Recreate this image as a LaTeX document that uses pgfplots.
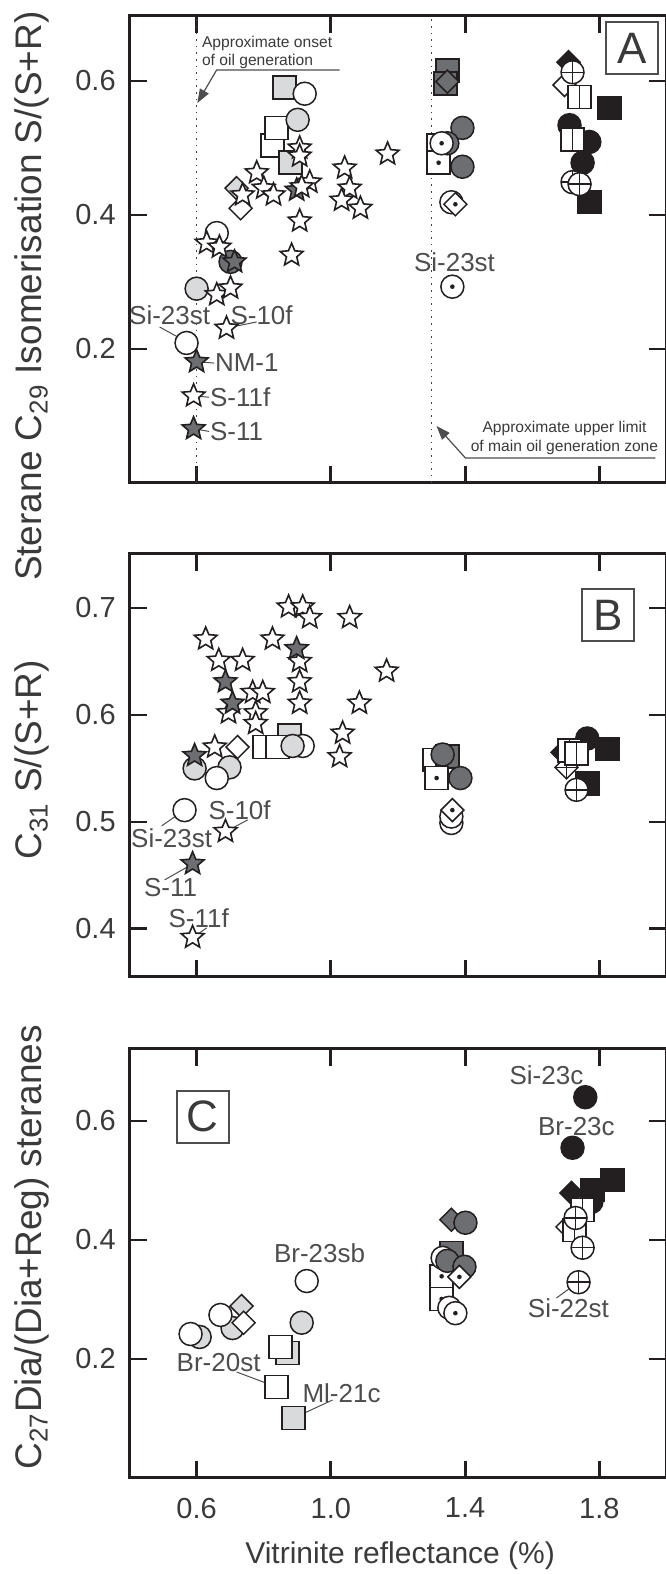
\documentclass[border=0pt]{standalone}
\usepackage{fontspec}
\setmainfont{Liberation Sans}
\usepackage{pgfplots}
\pgfplotsset{compat=1.18}
\usetikzlibrary{arrows.meta}

\definecolor{ink}{HTML}{231F20}
\definecolor{dkg}{HTML}{6D6E71}
\definecolor{ltg}{HTML}{D9DADB}
\definecolor{txt}{HTML}{3A3A3A}
\definecolor{lbl}{HTML}{4D4D4F}

% small centre dot used inside some symbols
\newcommand\markdot{\pgfscope\pgfsetfillcolor{ink}\pgfpathcircle{\pgfpointorigin}{0.2\pgfplotmarksize}\pgfusepathqfill\endpgfscope}

% five-pointed star
\pgfdeclareplotmark{fstar}{%
  \pgfpathmoveto{\pgfpointpolar{90}{\pgfplotmarksize}}%
  \pgfpathlineto{\pgfpointpolar{126}{0.45*\pgfplotmarksize}}%
  \pgfpathlineto{\pgfpointpolar{162}{\pgfplotmarksize}}%
  \pgfpathlineto{\pgfpointpolar{198}{0.45*\pgfplotmarksize}}%
  \pgfpathlineto{\pgfpointpolar{234}{\pgfplotmarksize}}%
  \pgfpathlineto{\pgfpointpolar{270}{0.45*\pgfplotmarksize}}%
  \pgfpathlineto{\pgfpointpolar{306}{\pgfplotmarksize}}%
  \pgfpathlineto{\pgfpointpolar{342}{0.45*\pgfplotmarksize}}%
  \pgfpathlineto{\pgfpointpolar{18}{\pgfplotmarksize}}%
  \pgfpathlineto{\pgfpointpolar{54}{0.45*\pgfplotmarksize}}%
  \pgfpathclose\pgfusepathqfillstroke}
% circles
\pgfdeclareplotmark{circ}{\pgfpathcircle{\pgfpointorigin}{\pgfplotmarksize}\pgfusepathqfillstroke}
\pgfdeclareplotmark{cdot}{\pgfpathcircle{\pgfpointorigin}{\pgfplotmarksize}\pgfusepathqfillstroke\markdot}
\pgfdeclareplotmark{ccross}{\pgfpathcircle{\pgfpointorigin}{\pgfplotmarksize}\pgfusepathqfillstroke
  \pgfpathmoveto{\pgfqpoint{-\pgfplotmarksize}{0pt}}\pgfpathlineto{\pgfqpoint{\pgfplotmarksize}{0pt}}%
  \pgfpathmoveto{\pgfqpoint{0pt}{-\pgfplotmarksize}}\pgfpathlineto{\pgfqpoint{0pt}{\pgfplotmarksize}}\pgfusepathqstroke}
% squares
\pgfdeclareplotmark{sqr}{\pgfpathrectangle{\pgfqpoint{-\pgfplotmarksize}{-\pgfplotmarksize}}{\pgfqpoint{2\pgfplotmarksize}{2\pgfplotmarksize}}\pgfusepathqfillstroke}
\pgfdeclareplotmark{sqdot}{\pgfpathrectangle{\pgfqpoint{-\pgfplotmarksize}{-\pgfplotmarksize}}{\pgfqpoint{2\pgfplotmarksize}{2\pgfplotmarksize}}\pgfusepathqfillstroke\markdot}
\pgfdeclareplotmark{sqsplit}{\pgfpathrectangle{\pgfqpoint{-\pgfplotmarksize}{-\pgfplotmarksize}}{\pgfqpoint{2\pgfplotmarksize}{2\pgfplotmarksize}}\pgfusepathqfillstroke
  \pgfpathmoveto{\pgfqpoint{0pt}{-\pgfplotmarksize}}\pgfpathlineto{\pgfqpoint{0pt}{\pgfplotmarksize}}\pgfusepathqstroke}
% diamonds
\newcommand\diapath{\pgfpathmoveto{\pgfqpoint{0pt}{\pgfplotmarksize}}\pgfpathlineto{\pgfqpoint{\pgfplotmarksize}{0pt}}%
  \pgfpathlineto{\pgfqpoint{0pt}{-\pgfplotmarksize}}\pgfpathlineto{\pgfqpoint{-\pgfplotmarksize}{0pt}}\pgfpathclose}
\pgfdeclareplotmark{dia}{\diapath\pgfusepathqfillstroke}
\pgfdeclareplotmark{diadot}{\diapath\pgfusepathqfillstroke\markdot}
\pgfdeclareplotmark{diacross}{\diapath\pgfusepathqfillstroke
  \pgfpathmoveto{\pgfqpoint{-\pgfplotmarksize}{0pt}}\pgfpathlineto{\pgfqpoint{\pgfplotmarksize}{0pt}}%
  \pgfpathmoveto{\pgfqpoint{0pt}{-\pgfplotmarksize}}\pgfpathlineto{\pgfqpoint{0pt}{\pgfplotmarksize}}\pgfusepathqstroke}

\pgfplotsset{
  mk/.style 2 args={only marks, mark=#1, mark size=5.75pt,
    mark options={solid, draw=ink, line width=0.75pt, fill=#2}},
  st/.style={only marks, mark=fstar, mark size=6pt,
    mark options={solid, draw=ink, line width=0.8pt, fill=#1}},
  panel/.style={
    scale only axis, width=268.5pt, xmin=0.4, xmax=2.0,
    anchor=south west, clip=false,
    axis line style={ink, line width=1.5pt},
    tick align=inside, major tick length=8.5pt,
    major tick style={ink, line width=1.4pt},
    xtick={0.6,1.0,1.4,1.8},
    tick label style={font=\fontsize{14.5}{14.5}\selectfont, text=txt},
    yticklabel style={xshift=-3.4pt},
    xticklabel style={yshift=-6.4pt},
    ylabel style={font=\fontsize{18.5}{18.5}\selectfont, text=txt, anchor=center},
  },
}
\tikzset{lead/.style={draw=lbl, line width=0.5pt}}
\newcommand\lab{\fontsize{13}{13}\selectfont}

\begin{document}
\begin{tikzpicture}
\useasboundingbox (0,0) rectangle (332.5pt,787pt);

%% ---------------- A: sterane C29 isomerisation ----------------
\begin{axis}[panel, at={(64.75pt,545.5pt)}, height=233.5pt,
  ymin=0, ymax=0.697, ytick={0.2,0.4,0.6}, yticklabels={0.2,0.4,0.6},
  xticklabels={},
  ylabel={Sterane C\textsubscript{29} Isomerisation S/(S+R)},
  ylabel style={at={(axis description cs:-0.1816,0.40)}}]
\draw[ink!85, line width=0.8pt, dash pattern=on 0.8pt off 2.5pt] (axis cs:0.6,0) -- (axis cs:0.6,0.697);
\draw[ink!85, line width=0.8pt, dash pattern=on 0.8pt off 2.5pt] (axis cs:1.3,0) -- (axis cs:1.3,0.697);
\node[anchor=west, align=left, inner sep=0pt, text=txt, font=\fontsize{7.8}{9.4}\selectfont]
  at (axis cs:0.615,0.6425) {Approximate onset\\of oil generation};
\draw[lbl, line width=0.6pt, -{Triangle[length=7pt,width=5pt]}]
  (axis cs:1.026,0.6164) -- (axis cs:0.6596,0.6164) -- (axis cs:0.602,0.567);
\node[align=center, inner sep=0pt, text=txt, font=\fontsize{7.8}{9.1}\selectfont]
  at (axis cs:1.696,0.0672) {Approximate upper limit\\of main oil generation zone};
\draw[lbl, line width=0.6pt, -{Triangle[length=7pt,width=5pt]}]
  (axis cs:1.967,0.0373) -- (axis cs:1.401,0.0373) -- (axis cs:1.3147,0.0851);
\node[draw=ink!80, line width=1pt, minimum size=26pt, inner sep=0pt, text=txt,
  font=\fontsize{22}{22}\selectfont] at (axis cs:1.898,0.6485) {A};

\addplot[mk={sqr}{white}] coordinates {(0.826,0.504) (0.838,0.530)};
\addplot[mk={sqr}{ltg}] coordinates {(0.862,0.590) (0.880,0.478)};
\addplot[mk={sqr}{dkg}] coordinates {(1.347,0.616) (1.342,0.596)};
\addplot[mk={sqdot}{white}] coordinates {(1.321,0.504) (1.321,0.478)};
\addplot[mk={sqr}{ink}] coordinates {(1.830,0.560) (1.770,0.419)};
\addplot[mk={dia}{ltg}] coordinates {(0.719,0.440)};
\addplot[mk={dia}{white}] coordinates {(0.731,0.410) (1.696,0.594)};
\addplot[mk={dia}{dkg}] coordinates {(1.347,0.599)};
\addplot[mk={dia}{ink}] coordinates {(1.708,0.628)};
\addplot[mk={circ}{white}] coordinates {(0.922,0.581) (0.660,0.373) (0.570,0.209) (1.359,0.419)};
\addplot[mk={circ}{ltg}] coordinates {(0.901,0.542) (0.600,0.290)};
\addplot[mk={circ}{dkg}] coordinates {(0.701,0.330) (1.392,0.530) (1.347,0.507) (1.392,0.472)};
\addplot[mk={circ}{ink}] coordinates {(1.711,0.534) (1.770,0.509) (1.750,0.478)};
\addplot[mk={cdot}{white}] coordinates {(1.330,0.507) (1.362,0.293)};
\addplot[mk={sqsplit}{white}] coordinates {(1.741,0.576) (1.720,0.513)};
\addplot[mk={ccross}{white}] coordinates {(1.720,0.613) (1.720,0.449) (1.741,0.446)};
\addplot[mk={diadot}{white}] coordinates {(1.371,0.416)};
\addplot[st=dkg] coordinates {(0.898,0.437) (0.713,0.330) (0.600,0.181) (0.591,0.081)};
\addplot[st=white] coordinates {
  (0.907,0.500) (0.907,0.488) (1.169,0.491) (1.041,0.470) (1.056,0.440)
  (1.032,0.422) (1.088,0.410) (0.937,0.449) (0.913,0.442) (0.907,0.391)
  (0.779,0.463) (0.800,0.440) (0.829,0.430) (0.737,0.430)
  (0.630,0.358) (0.668,0.352) (0.883,0.340) (0.660,0.281) (0.701,0.291)
  (0.689,0.231) (0.591,0.130)};

\draw[lead] (axis cs:0.4898,0.2328) -- (axis cs:0.565,0.212);
\node[text=lbl, font=\lab, inner sep=0pt] at (axis cs:0.5196,0.2507) {Si-23st};
\draw[lead] (axis cs:0.7787,0.2403) -- (axis cs:0.6893,0.2313);
\node[text=lbl, font=\lab, inner sep=0pt] at (axis cs:0.7936,0.2507) {S-10f};
\draw[lead] (axis cs:0.600,0.181) -- (axis cs:0.652,0.179);
\node[text=lbl, font=\lab, inner sep=0pt, anchor=west] at (axis cs:0.6536,0.1791) {NM-1};
\draw[lead] (axis cs:0.591,0.130) -- (axis cs:0.637,0.128);
\node[text=lbl, font=\lab, inner sep=0pt, anchor=west] at (axis cs:0.6387,0.1284) {S-11f};
\draw[lead] (axis cs:0.591,0.081) -- (axis cs:0.637,0.077);
\node[text=lbl, font=\lab, inner sep=0pt, anchor=west] at (axis cs:0.6387,0.0761) {S-11};
\node[text=lbl, font=\lab, inner sep=0pt] at (axis cs:1.3683,0.3299) {Si-23st};
\end{axis}

%% ---------------- B: C31 S/(S+R) ----------------
\begin{axis}[panel, at={(64.75pt,298.5pt)}, height=211.5pt,
  ymin=0.355, ymax=0.7505, ytick={0.4,0.5,0.6,0.7}, yticklabels={0.4,0.5,0.6,0.7},
  xticklabels={},
  ylabel={C\textsubscript{31} S/(S+R)},
  ylabel style={at={(axis description cs:-0.1816,0.513)}}]
\node[draw=ink!80, line width=1pt, minimum size=26pt, inner sep=0pt, text=txt,
  font=\fontsize{22}{22}\selectfont] at (axis cs:1.825,0.693) {B};

\addplot[mk={sqr}{ltg}] coordinates {(0.877,0.581)};
\addplot[mk={sqr}{white}] coordinates {(0.802,0.570) (0.841,0.570) (1.309,0.558)};
\addplot[mk={sqr}{dkg}] coordinates {(1.347,0.561)};
\addplot[mk={sqdot}{white}] coordinates {(1.315,0.541)};
\addplot[mk={sqr}{ink}] coordinates {(1.824,0.568) (1.764,0.536)};
\addplot[mk={dia}{ink}] coordinates {(1.690,0.565)};
\addplot[mk={diacross}{white}] coordinates {(1.702,0.551)};
\addplot[mk={dia}{white}] coordinates {(0.722,0.570)};
\addplot[mk={circ}{ltg}] coordinates {(0.594,0.550) (0.698,0.551)};
\addplot[mk={circ}{white}] coordinates {(0.660,0.541) (0.564,0.511) (0.916,0.571) (1.359,0.499) (1.359,0.505)};
\addplot[mk={circ}{ltg}] coordinates {(0.886,0.571)};
\addplot[mk={circ}{dkg}] coordinates {(1.333,0.563) (1.386,0.541)};
\addplot[mk={circ}{ink}] coordinates {(1.764,0.578)};
\addplot[mk={sqsplit}{white}] coordinates {(1.711,0.567) (1.732,0.564)};
\addplot[mk={diadot}{white}] coordinates {(1.362,0.511)};
\addplot[mk={ccross}{white}] coordinates {(1.732,0.530)};
\addplot[st=white] coordinates {
  (0.627,0.671) (0.666,0.651) (0.737,0.651) (0.767,0.621) (0.797,0.621)
  (0.695,0.602) (0.776,0.602) (0.776,0.592) (0.826,0.671) (0.874,0.701)
  (0.916,0.701) (0.937,0.691) (0.907,0.650) (0.907,0.631) (0.907,0.611)
  (1.056,0.691) (1.166,0.641) (1.085,0.611) (1.035,0.583) (1.026,0.561)
  (0.654,0.570) (0.686,0.491) (0.588,0.392)};
\addplot[st=dkg] coordinates {(0.686,0.631) (0.707,0.611) (0.898,0.662) (0.594,0.562) (0.588,0.461)};

\draw[lead] (axis cs:0.7519,0.5019) -- (axis cs:0.6864,0.4907);
\node[text=lbl, font=\lab, inner sep=0pt] at (axis cs:0.728,0.5112) {S-10f};
\draw[lead] (axis cs:0.4958,0.4963) -- (axis cs:0.5643,0.5112);
\node[text=lbl, font=\lab, inner sep=0pt] at (axis cs:0.5256,0.485) {Si-23st};
\draw[lead] (axis cs:0.5047,0.4458) -- (axis cs:0.5881,0.4607);
\node[text=lbl, font=\lab, inner sep=0pt] at (axis cs:0.5226,0.4383) {S-11};
\draw[lead] (axis cs:0.6298,0.4009) -- (axis cs:0.5881,0.3916);
\node[text=lbl, font=\lab, inner sep=0pt] at (axis cs:0.606,0.4103) {S-11f};
\end{axis}

%% ---------------- C: C27 diasteranes ----------------
\begin{axis}[panel, at={(64.75pt,48pt)}, height=214.5pt,
  ymin=0, ymax=0.721, ytick={0.2,0.4,0.6}, yticklabels={0.2,0.4,0.6},
  xticklabels={0.6,1.0,1.4,1.8},
  xlabel={Vitrinite reflectance (\%)},
  xlabel style={at={(axis description cs:0.504,0)}, anchor=center, yshift=-39pt,
    font=\fontsize{15}{15}\selectfont, text=txt},
  ylabel={C\textsubscript{27}Dia/(Dia+Reg) steranes},
  ylabel style={at={(axis description cs:-0.1816,0.538)}}]
\node[draw=ink!80, line width=1pt, minimum size=26pt, inner sep=0pt, text=txt,
  font=\fontsize{22}{22}\selectfont] at (axis cs:0.618,0.607) {C};

\addplot[mk={sqr}{ltg}] coordinates {(0.871,0.210) (0.889,0.101)};
\addplot[mk={sqr}{white}] coordinates {(0.850,0.220) (0.838,0.153)};
\addplot[mk={sqr}{dkg}] coordinates {(1.359,0.378)};
\addplot[mk={sqdot}{white}] coordinates {(1.330,0.339) (1.330,0.301)};
\addplot[mk={sqr}{ink}] coordinates {(1.839,0.501) (1.779,0.484)};
\addplot[mk={circ}{ltg}] coordinates {(0.609,0.237) (0.707,0.252) (0.913,0.261)};
\addplot[mk={dia}{ltg}] coordinates {(0.734,0.289)};
\addplot[mk={circ}{white}] coordinates {(0.582,0.242) (0.671,0.274) (0.928,0.331) (1.333,0.370) (1.353,0.286)};
\addplot[mk={dia}{white}] coordinates {(0.740,0.261)};
\addplot[mk={dia}{dkg}] coordinates {(1.359,0.434)};
\addplot[mk={circ}{dkg}] coordinates {(1.401,0.429) (1.347,0.365) (1.398,0.355)};
\addplot[mk={dia}{ink}] coordinates {(1.717,0.479)};
\addplot[mk={dia}{white}] coordinates {(1.705,0.422)};
\addplot[mk={circ}{ink}] coordinates {(1.758,0.640) (1.720,0.555) (1.776,0.464)};
\addplot[mk={sqsplit}{white}] coordinates {(1.750,0.450) (1.726,0.417)};
\addplot[mk={diadot}{white}] coordinates {(1.383,0.338)};
\addplot[mk={cdot}{white}] coordinates {(1.371,0.277)};
\addplot[mk={ccross}{white}] coordinates {(1.729,0.437) (1.750,0.387) (1.738,0.329)};

\node[text=lbl, font=\lab, inner sep=0pt] at (axis cs:0.9663,0.3782) {Br-23sb};
\draw[lead] (axis cs:0.7191,0.1782) -- (axis cs:0.8382,0.1529);
\node[text=lbl, font=\lab, inner sep=0pt] at (axis cs:0.6655,0.1933) {Br-20st};
\draw[lead] (axis cs:1.005,0.1311) -- (axis cs:0.8889,0.1008);
\node[text=lbl, font=\lab, inner sep=0pt] at (axis cs:1.0318,0.1429) {Ml-21c};
\node[text=lbl, font=\lab, inner sep=0pt] at (axis cs:1.6423,0.6773) {Si-23c};
\node[text=lbl, font=\lab, inner sep=0pt] at (axis cs:1.7316,0.5899) {Br-23c};
\draw[lead] (axis cs:1.672,0.3025) -- (axis cs:1.7376,0.3294);
\node[text=lbl, font=\lab, inner sep=0pt] at (axis cs:1.7078,0.2857) {Si-22st};
\end{axis}
\end{tikzpicture}
\end{document}
